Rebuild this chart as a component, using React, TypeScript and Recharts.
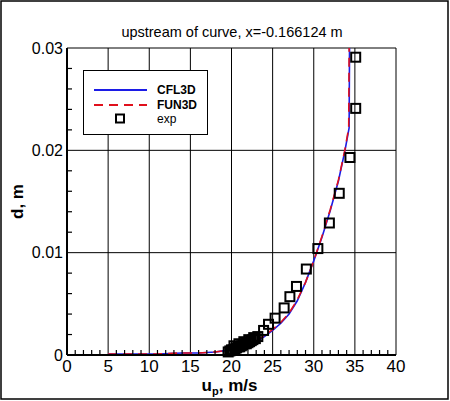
import React from 'react'
import {
  ComposedChart,
  Line,
  Scatter,
  XAxis,
  YAxis,
  CartesianGrid,
  Legend,
  Label,
} from 'recharts'

const BLUE = '#1c1ce6'
const RED = '#e0101c'
const FONT = '"Liberation Sans", Arial, Helvetica, sans-serif'

// CFL3D profile
const cfl3dU = [5, 8, 11, 14, 16, 18, 19, 20, 21, 22, 23, 24, 25, 26, 27, 28, 29, 30, 31, 32, 33, 33.8, 34.3, 34.35]
const cfl3dD = [0.0001, 0.0001, 0.0001, 0.0002, 0.0002, 0.0003, 0.0004, 0.0005, 0.0007, 0.0009, 0.0013, 0.0018, 0.0024, 0.0031, 0.004, 0.0053, 0.0071, 0.0092, 0.0115, 0.0141, 0.017, 0.02, 0.0222, 0.03]

// FUN3D profile
const fun3dU = [5, 8, 11, 14, 16, 18, 19, 20, 21, 22, 23, 24, 25, 26, 27, 28, 29, 30, 31, 32, 33, 33.8, 34.25, 34.3]
const fun3dD = [0.0001, 0.0001, 0.0001, 0.0002, 0.0002, 0.0003, 0.0004, 0.0005, 0.0007, 0.001, 0.0014, 0.0019, 0.0025, 0.0032, 0.0041, 0.0054, 0.0071, 0.0092, 0.0116, 0.0142, 0.0171, 0.0201, 0.0222, 0.03]

// experiment
const expU = [19.6, 19.8, 20.0, 20.2, 20.4, 20.6, 20.8, 21.0, 21.2, 21.4, 21.6, 21.8, 22.0, 22.2, 22.4, 22.6, 22.9, 23.2, 20.3, 20.9, 21.5, 22.1, 22.7, 23.9, 24.5, 25.3, 26.4, 27.1, 27.9, 29.1, 30.5, 31.9, 33.1, 34.4, 35.1, 35.1]
const expD = [0.0003, 0.0004, 0.0005, 0.0005, 0.0006, 0.0007, 0.0008, 0.0008, 0.0009, 0.001, 0.0011, 0.0011, 0.0012, 0.0013, 0.0014, 0.0015, 0.0016, 0.0018, 0.0009, 0.0011, 0.0013, 0.0015, 0.0017, 0.0024, 0.003, 0.0036, 0.0046, 0.0057, 0.0067, 0.0084, 0.0104, 0.0129, 0.0158, 0.0193, 0.0241, 0.0291]

const xMajor = [0, 5, 10, 15, 20, 25, 30, 35, 40]
const yMajor = [0, 0.01, 0.02, 0.03]
const xTicks = [0, 1, 2, 3, 4, 5, 6, 7, 8, 9, 10, 11, 12, 13, 14, 15, 16, 17, 18, 19, 20, 21, 22, 23, 24, 25, 26, 27, 28, 29, 30, 31, 32, 33, 34, 35, 36, 37, 38, 39, 40]
const yTicks = [0, 0.002, 0.004, 0.006, 0.008, 0.01, 0.012, 0.014, 0.016, 0.018, 0.02, 0.022, 0.024, 0.026, 0.028, 0.03]

const cfl3d = cfl3dU.map((u, i) => ({ u, d: cfl3dD[i] }))
const fun3d = fun3dU.map((u, i) => ({ u, d: fun3dD[i] }))
const exp = expU.map((u, i) => ({ u, d: expD[i] }))

const XTick = (props: any) => {
  const { x, y, payload } = props
  const major = xMajor.includes(payload.value)
  return (
    <g>
      {!major && <line x1={x} x2={x} y1={y} y2={y - 5} stroke="#000" strokeWidth={1.2} />}
      {major && (
        <text x={x} y={y + 17} textAnchor="middle" fontSize={17} fill="#000" fontFamily={FONT}>
          {payload.value}
        </text>
      )}
    </g>
  )
}

const YTick = (props: any) => {
  const { x, y, payload } = props
  const major = yMajor.some((v) => Math.abs(v - payload.value) < 1e-9)
  return (
    <g>
      {!major && <line x1={x} x2={x + 5} y1={y} y2={y} stroke="#000" strokeWidth={1.2} />}
      {major && (
        <text x={x - 4} y={y} textAnchor="end" dominantBaseline="central" fontSize={16} fill="#000" fontFamily={FONT}>
          {payload.value === 0 ? '0' : payload.value.toFixed(2)}
        </text>
      )}
    </g>
  )
}

const XTitle = (props: any) => {
  const { x, y, width } = props.viewBox
  return (
    <text x={x + width / 2 - 2} y={y + 36} textAnchor="middle" fontSize={17} fontWeight="bold" fontFamily={FONT} fill="#000">
      u<tspan fontSize={11} dy={4}>p</tspan>
      <tspan dy={-4}>, m/s</tspan>
    </text>
  )
}

const YTitle = (props: any) => {
  const { x, y, height } = props.viewBox
  const cx = x + 10
  const cy = y + height / 2
  return (
    <text
      x={cx}
      y={cy}
      transform={`rotate(-90, ${cx}, ${cy})`}
      textAnchor="middle"
      dominantBaseline="central"
      fontSize={17}
      fontWeight="bold"
      fontFamily={FONT}
      fill="#000"
    >
      d, m
    </text>
  )
}

const Square = (props: any) => {
  const { cx, cy } = props
  return <rect x={cx - 4.5} y={cy - 4.5} width={9} height={9} fill="none" stroke="#000" strokeWidth={2} />
}

const LegendBox = () => (
  <svg width={126} height={66} style={{ display: 'block' }}>
    <rect x={0.5} y={0.5} width={124} height={64} fill="#fff" stroke="#000" />
    <line x1={11} x2={64} y1={20} y2={20} stroke={BLUE} strokeWidth={2} />
    <line x1={11} x2={64} y1={35} y2={35} stroke={RED} strokeWidth={2} strokeDasharray="9 6" />
    <rect x={33} y={44.5} width={8} height={8} fill="none" stroke="#000" strokeWidth={2} />
    <text x={74} y={20} dominantBaseline="central" fontSize={12} fontWeight="bold" fontFamily={FONT}>CFL3D</text>
    <text x={74} y={35} dominantBaseline="central" fontSize={12} fontWeight="bold" fontFamily={FONT}>FUN3D</text>
    <text x={74} y={49} dominantBaseline="central" fontSize={12} fontFamily={FONT}>exp</text>
  </svg>
)

export default function App() {
  return (
    <div style={{ position: 'absolute', left: 0, top: 0, width: 450, height: 401, background: '#fff' }}>
      <ComposedChart
        width={450}
        height={401}
        margin={{ top: 48, right: 54, left: 7, bottom: 6 }}
        style={{ fontFamily: FONT }}
      >
        <CartesianGrid
          stroke="#000"
          strokeWidth={1}
          verticalValues={xMajor}
          horizontalValues={yMajor}
          fill="none"
        />
        <XAxis
          type="number"
          dataKey="u"
          domain={[0, 40]}
          ticks={xTicks}
          interval={0}
          tickSize={0}
          tickMargin={0}
          tickLine={false}
          tick={<XTick />}
          axisLine={{ stroke: '#000', strokeWidth: 2 }}
          height={40}
        >
          <Label content={<XTitle />} />
        </XAxis>
        <YAxis
          type="number"
          dataKey="d"
          domain={[0, 0.03]}
          ticks={yTicks}
          interval={0}
          tickSize={0}
          tickMargin={0}
          tickLine={false}
          tick={<YTick />}
          axisLine={{ stroke: '#000', strokeWidth: 2 }}
          width={60}
        >
          <Label content={<YTitle />} />
        </YAxis>
        <Line data={cfl3d} dataKey="d" type="linear" stroke={BLUE} strokeWidth={1.6} dot={false} isAnimationActive={false} />
        <Line data={fun3d} dataKey="d" type="linear" stroke={RED} strokeWidth={1.6} strokeDasharray="9 6" dot={false} isAnimationActive={false} />
        <Scatter data={exp} dataKey="d" shape={<Square />} isAnimationActive={false} />
        <Legend
          layout="vertical"
          align="center"
          verticalAlign="middle"
          width={126}
          height={66}
          wrapperStyle={{ left: 83, top: 70, width: 126, height: 66 }}
          content={<LegendBox />}
        />
      </ComposedChart>
      <svg width={450} height={401} style={{ position: 'absolute', left: 0, top: 0, pointerEvents: 'none' }}>
        <rect x={1} y={1} width={447} height={398} fill="none" stroke="#000" strokeWidth={1.5} />
        <text x={232} y={37} textAnchor="middle" fontSize={14.5} fontFamily={FONT} fill="#000">
          upstream of curve, x=-0.166124 m
        </text>
      </svg>
    </div>
  )
}
